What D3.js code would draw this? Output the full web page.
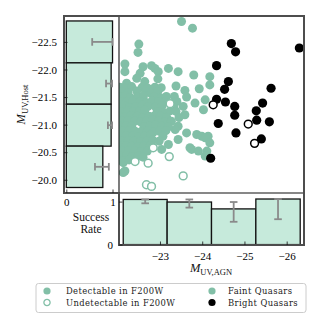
<!DOCTYPE html>
<html>
<head>
<meta charset="utf-8">
<script src="https://cdn.jsdelivr.net/npm/d3@7"></script>
<style>
  body { margin: 0; background: #fff; }
  svg { display: block; }
</style>
</head>
<body>
<svg id="chart" width="320" height="320"></svg>
<script>
// faint quasars, detectable host  [M_UV,AGN, M_UV,Host]
const faintDetect = [
  [-23.51, -22.87], [-23.77, -22.75], [-22.50, -22.46], [-22.48, -22.31],
  [-22.17, -22.10], [-22.17, -21.96], [-22.21, -21.75], [-22.60, -22.05],
  [-22.80, -22.07], [-22.88, -22.02], [-22.96, -21.96], [-22.53, -21.93],
  [-22.45, -21.84], [-22.64, -21.78], [-22.95, -21.83], [-23.20, -22.02],
  [-23.43, -21.96], [-23.80, -21.90], [-24.18, -21.87], [-24.18, -21.72],
  [-23.38, -21.70], [-23.59, -21.62], [-23.93, -21.65], [-23.34, -21.51],
  [-23.63, -21.50], [-24.07, -21.45], [-23.83, -21.39], [-23.55, -21.33],
  [-24.03, -21.27], [-23.59, -21.18], [-23.43, -20.97], [-23.36, -20.91],
  [-23.63, -20.85], [-23.87, -20.82], [-23.99, -20.79], [-24.14, -20.79],
  [-24.07, -20.76], [-24.18, -20.67], [-23.20, -20.64], [-23.71, -20.58],
  [-23.04, -20.55], [-23.75, -20.55], [-23.91, -20.52], [-24.11, -20.52],
  [-24.07, -20.43], [-22.13, -20.13], [-22.17, -20.16], [-22.13, -20.31],
  [-23.43, -20.73],
  // dense core
  [-22.05, -21.68], [-22.16, -21.66], [-22.33, -21.69], [-22.58, -21.68], [-22.71, -21.66], [-22.88, -21.68], [-23.03, -21.67],
  [-22.10, -21.60], [-22.24, -21.58], [-22.45, -21.61], [-22.66, -21.60], [-22.79, -21.57], [-22.95, -21.60],
  [-22.04, -21.50], [-22.18, -21.52], [-22.30, -21.49], [-22.47, -21.50], [-22.61, -21.52], [-22.86, -21.50], [-23.02, -21.48], [-23.15, -21.51],
  [-22.09, -21.42], [-22.22, -21.41], [-22.36, -21.43], [-22.53, -21.42], [-22.67, -21.40], [-22.81, -21.43], [-22.97, -21.42], [-23.12, -21.41], [-23.40, -21.42],
  [-22.04, -21.33], [-22.15, -21.34], [-22.29, -21.31], [-22.43, -21.33], [-22.58, -21.35], [-22.72, -21.33], [-22.90, -21.32], [-23.05, -21.34], [-23.33, -21.31],
  [-22.10, -21.24], [-22.24, -21.25], [-22.37, -21.23], [-22.51, -21.24], [-22.64, -21.26], [-22.94, -21.24], [-23.08, -21.22], [-23.24, -21.25], [-23.38, -21.24],
  [-22.05, -21.15], [-22.18, -21.14], [-22.31, -21.16], [-22.46, -21.15], [-22.60, -21.13], [-22.74, -21.15], [-22.87, -21.16], [-23.01, -21.15], [-23.16, -21.13], [-23.45, -21.13],
  [-22.11, -21.06], [-22.25, -21.07], [-22.40, -21.06], [-22.54, -21.05], [-22.68, -21.06], [-22.82, -21.08], [-22.96, -21.06], [-23.12, -21.05], [-23.27, -21.06],
  [-22.06, -20.97], [-22.19, -20.98], [-22.33, -20.97], [-22.62, -20.96], [-22.76, -20.97], [-22.90, -20.99], [-23.04, -20.97], [-23.20, -20.96],
  [-22.12, -20.88], [-22.27, -20.89], [-22.41, -20.88], [-22.55, -20.87], [-22.70, -20.88], [-22.84, -20.86], [-22.99, -20.88], [-23.14, -20.89],
  [-22.05, -20.79], [-22.20, -20.80], [-22.35, -20.79], [-22.49, -20.78], [-22.63, -20.79], [-22.78, -20.81], [-23.07, -20.79],
  [-22.10, -20.70], [-22.25, -20.71], [-22.39, -20.70], [-22.54, -20.69], [-22.68, -20.70], [-22.83, -20.72], [-22.98, -20.70],
  [-22.06, -20.61], [-22.19, -20.62], [-22.33, -20.61], [-22.48, -20.60], [-22.62, -20.61], [-22.77, -20.62],
  [-22.11, -20.52], [-22.26, -20.53], [-22.41, -20.52], [-22.55, -20.51], [-22.70, -20.52],
  [-22.07, -20.43], [-22.21, -20.44], [-22.34, -20.42], [-22.49, -20.43], [-22.60, -20.41],
  [-22.12, -20.34], [-22.27, -20.36]
];
const faintUndetect = [
  [-23.24, -21.38], [-22.84, -20.58], [-22.41, -20.33], [-22.72, -20.30],
  [-23.22, -20.42], [-23.55, -20.07], [-22.68, -19.91], [-22.80, -19.88]
];
const brightDetect = [
  [-24.69, -22.47], [-24.79, -22.32], [-26.30, -22.39], [-24.34, -22.07],
  [-24.62, -21.78], [-24.53, -21.64], [-25.63, -21.66], [-24.34, -21.46],
  [-24.55, -21.41], [-24.77, -21.33], [-24.77, -21.17], [-25.43, -21.39],
  [-25.28, -21.25], [-25.29, -21.08], [-25.59, -21.05], [-24.38, -21.02],
  [-24.80, -20.85], [-25.40, -20.74], [-24.20, -20.39]
];
const brightUndetect = [[-24.26, -21.36], [-25.09, -21.01], [-25.24, -20.66]];

// success rate histograms
const hostEdges = [-22.88, -22.12, -21.37, -20.61, -19.86];
const hostRate = [1.0, 0.97, 0.97, 0.79];
const hostLo = [0.56, 0.86, 0.90, 0.62];
const hostHi = [1.0, 0.99, 0.99, 0.92];
const agnEdges = [-22.13, -23.17, -24.22, -25.27, -26.32];
const agnRate = [1.05, 0.99, 0.83, 1.06];
const agnLo = [0.96, 0.86, 0.53, 0.59];
const agnHi = [1.05, 1.05, 0.99, 1.06];

const hostTicks = [-22.5, -22, -21.5, -21, -20.5, -20];
const agnTicks = [-23, -24, -25, -26];
const rateTicks = [0, 1];

const teal = "#82bfa7", mint = "#c6eadb", edge = "#4d4d4d", errGray = "#8a8a8a";
const serif = "'Liberation Serif', 'DejaVu Serif', serif";

const svg = d3.select("#chart");
svg.append("rect").attr("width", 320).attr("height", 320).attr("fill", "#fff");

const main = { l: 119, r: 304, t: 16, b: 193 };
const sideL = 64, botB = 245;

const x = d3.scaleLinear().domain([-22.03, -26.41]).range([main.l, main.r]);
const y = d3.scaleLinear().domain([-22.97, -19.76]).range([main.t, main.b]);
const xRate = d3.scaleLinear().domain([-0.05, 1.14]).range([sideL, main.l]);
const yRate = d3.scaleLinear().domain([-0.01, 1.2]).range([botB, main.b]);

// left histogram (host)
const gl = svg.append("g");
gl.selectAll("rect").data(hostRate).join("rect")
  .attr("x", xRate(0))
  .attr("y", (d, i) => y(hostEdges[i]))
  .attr("width", d => xRate(d) - xRate(0))
  .attr("height", (d, i) => y(hostEdges[i + 1]) - y(hostEdges[i]))
  .attr("fill", mint).attr("stroke", "#111").attr("stroke-width", 1.3);
hostRate.forEach((d, i) => {
  const cy = (y(hostEdges[i]) + y(hostEdges[i + 1])) / 2;
  const e = gl.append("g").attr("stroke", errGray).attr("stroke-width", 1.8);
  e.append("line").attr("x1", xRate(hostLo[i])).attr("x2", xRate(hostHi[i])).attr("y1", cy).attr("y2", cy);
  [hostLo[i], hostHi[i]].forEach(v => e.append("line")
    .attr("x1", xRate(v)).attr("x2", xRate(v)).attr("y1", cy - 3.8).attr("y2", cy + 3.8));
});

// bottom histogram (agn)
const gb = svg.append("g");
gb.selectAll("rect").data(agnRate).join("rect")
  .attr("x", (d, i) => x(agnEdges[i]))
  .attr("y", d => yRate(d))
  .attr("width", (d, i) => x(agnEdges[i + 1]) - x(agnEdges[i]))
  .attr("height", d => yRate(0) - yRate(d))
  .attr("fill", mint).attr("stroke", "#111").attr("stroke-width", 1.3);
agnRate.forEach((d, i) => {
  const cx = (x(agnEdges[i]) + x(agnEdges[i + 1])) / 2;
  const e = gb.append("g").attr("stroke", errGray).attr("stroke-width", 1.8);
  e.append("line").attr("x1", cx).attr("x2", cx).attr("y1", yRate(agnLo[i])).attr("y2", yRate(agnHi[i]));
  [agnLo[i], agnHi[i]].forEach(v => e.append("line")
    .attr("y1", yRate(v)).attr("y2", yRate(v)).attr("x1", cx - 3.8).attr("x2", cx + 3.8));
});

// scatter
svg.append("clipPath").attr("id", "clipMain").append("rect")
  .attr("x", main.l).attr("y", main.t).attr("width", main.r - main.l).attr("height", main.b - main.t);
const gs = svg.append("g").attr("clip-path", "url(#clipMain)");
gs.selectAll(".fd").data(faintDetect).join("circle").attr("class", "fd")
  .attr("cx", d => x(d[0])).attr("cy", d => y(d[1])).attr("r", 4.5).attr("fill", teal);
gs.selectAll(".fu").data(faintUndetect).join("circle").attr("class", "fu")
  .attr("cx", d => x(d[0])).attr("cy", d => y(d[1])).attr("r", 3.9)
  .attr("fill", "#fff").attr("stroke", teal).attr("stroke-width", 1.5);
gs.selectAll(".bd").data(brightDetect).join("circle").attr("class", "bd")
  .attr("cx", d => x(d[0])).attr("cy", d => y(d[1])).attr("r", 4.6).attr("fill", "#000");
gs.selectAll(".bu").data(brightUndetect).join("circle").attr("class", "bu")
  .attr("cx", d => x(d[0])).attr("cy", d => y(d[1])).attr("r", 3.9)
  .attr("fill", "#fff").attr("stroke", "#000").attr("stroke-width", 1.5);

// frames
svg.append("line").attr("x1", main.l).attr("x2", main.l).attr("y1", main.t).attr("y2", main.b)
  .attr("stroke", "#111").attr("stroke-width", 1.1);
svg.append("line").attr("x1", main.l).attr("x2", main.r).attr("y1", main.b).attr("y2", main.b)
  .attr("stroke", "#111").attr("stroke-width", 1.1);
svg.append("path")
  .attr("d", `M${main.l},${main.b}H${sideL}V${main.t}H${main.r}V${botB}H${main.l}V${main.b}`)
  .attr("fill", "none").attr("stroke", edge).attr("stroke-width", 2);

// axes
function styleAxis(g) {
  g.select(".domain").remove();
  g.attr("font-family", serif).attr("font-size", 11);
  g.selectAll(".tick line").attr("stroke", "#111").attr("stroke-width", 0.8);
}
svg.append("g").attr("transform", `translate(${sideL},0)`)
  .call(d3.axisLeft(y).tickValues(hostTicks).tickSize(-3.5).tickPadding(7).tickFormat(d3.format(".1f")))
  .call(styleAxis);
svg.append("g").attr("transform", `translate(0,${main.b})`)
  .call(d3.axisBottom(xRate).tickValues(rateTicks).tickSize(-3.5).tickPadding(5).tickFormat(d3.format("d")))
  .call(styleAxis);
svg.append("g").attr("transform", `translate(0,${botB})`)
  .call(d3.axisBottom(x).tickValues(agnTicks).tickSize(-3.5).tickPadding(7).tickFormat(d3.format("d")))
  .call(styleAxis);
// the "1" of this axis sits exactly under the side panel's "1", so only "0" is written
svg.append("g").attr("transform", `translate(${main.l},0)`)
  .call(d3.axisLeft(yRate).tickValues(rateTicks).tickSize(-3.5).tickPadding(6)
    .tickFormat(d => d === 0 ? "0" : ""))
  .call(styleAxis);

// axis titles
function mLabel(sel, sub) {
  sel.attr("font-family", serif).attr("text-anchor", "middle").attr("fill", "#111");
  sel.append("tspan").attr("font-style", "italic").attr("font-size", 12.5).text("M");
  sel.append("tspan").attr("font-size", 8.5).attr("dy", 3).text(sub);
}
svg.append("text").attr("transform", "translate(25,104.5) rotate(-90)").call(mLabel, "UV,Host");
svg.append("text").attr("x", 211).attr("y", 272).call(mLabel, "UV,AGN");
const sr = svg.append("text").attr("font-family", serif).attr("font-size", 11.5)
  .attr("text-anchor", "middle").attr("fill", "#111");
sr.append("tspan").attr("x", 91).attr("y", 221).text("Success");
sr.append("tspan").attr("x", 91).attr("y", 233).text("Rate");

// legend
const legendItems = [
  { label: "Detectable in F200W", fill: teal, stroke: "none", col: 0, row: 0 },
  { label: "Undetectable in F200W", fill: "#fff", stroke: teal, col: 0, row: 1 },
  { label: "Faint Quasars", fill: teal, stroke: "none", col: 1, row: 0 },
  { label: "Bright Quasars", fill: "#000", stroke: "none", col: 1, row: 1 }
];
const lg = svg.append("g");
lg.append("rect").attr("x", 36).attr("y", 283.5).attr("width", 270).attr("height", 29)
  .attr("rx", 2.5).attr("fill", "#fff").attr("stroke", "#cccccc").attr("stroke-width", 1);
const li = lg.selectAll("g.item").data(legendItems).join("g").attr("class", "item")
  .attr("transform", d => `translate(${d.col ? 212 : 47},${d.row ? 302.5 : 291})`);
li.append("circle").attr("r", d => d.stroke === "none" ? 3.6 : 3.1)
  .attr("fill", d => d.fill).attr("stroke", d => d.stroke).attr("stroke-width", 1.3);
li.append("text").attr("x", d => d.col ? 16 : 19).attr("y", 3)
  .attr("font-family", "'DejaVu Serif', serif").attr("font-size", 8.4)
  .attr("letter-spacing", 0.4).attr("fill", "#222")
  .text(d => d.label);
</script>
</body>
</html>
